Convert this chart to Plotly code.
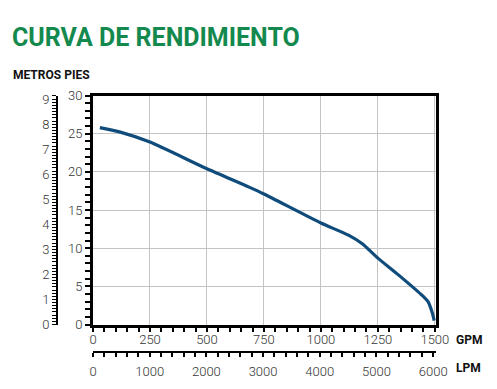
import plotly.graph_objects as go

# ---- data ----
gpm = [30, 120, 250, 500, 685, 750, 1000, 1121, 1180, 1250, 1340, 1441, 1470, 1489, 1497]
feet = [25.8, 25.2, 23.9, 20.4, 18.0, 17.1, 13.3, 11.7, 10.6, 8.7, 6.5, 3.9, 3.0, 1.5, 0.5]
gpm_ticks = [0, 250, 500, 750, 1000, 1250, 1500]
feet_ticks = [0, 5, 10, 15, 20, 25, 30]
metros_ticks = [0, 1, 2, 3, 4, 5, 6, 7, 8, 9]
lpm_ticks = [0, 1000, 2000, 3000, 4000, 5000, 6000]
title_text = "CURVA DE RENDIMIENTO"

W, H = 497, 389
px = lambda x: x / W
py = lambda y: (H - y) / H

NARROW = "Roboto, Liberation Sans Narrow, sans-serif"
tickfont = dict(family=NARROW, size=13, color="#333333", weight=300)

fig = go.Figure()
fig.add_trace(go.Scatter(x=gpm, y=feet, mode="lines",
                         line=dict(color="#0f4c7c", width=3.2, shape="spline", smoothing=0.6),
                         hoverinfo="skip", showlegend=False))
# invisible traces to activate secondary axes
fig.add_trace(go.Scatter(x=[0], y=[0], xaxis="x2", yaxis="y", mode="markers",
                         marker=dict(opacity=0), showlegend=False, hoverinfo="skip"))
fig.add_trace(go.Scatter(x=[0], y=[0], xaxis="x", yaxis="y2", mode="markers",
                         marker=dict(opacity=0), showlegend=False, hoverinfo="skip"))

xdom = [px(93), px(436)]
ydom = [py(324.5), py(95.5)]

fig.update_layout(
    width=W, height=H, margin=dict(l=0, r=0, t=0, b=0, autoexpand=False),
    paper_bgcolor="white", plot_bgcolor="white",
    xaxis=dict(domain=xdom, range=[0, 1505], tickvals=gpm_ticks, ticktext=[str(v) for v in gpm_ticks],
               showgrid=True, gridcolor="#c4c4c4", gridwidth=1,
               showline=True, linecolor="black", linewidth=3, mirror=True,
               ticks="outside", ticklen=4, tickwidth=1.5, tickcolor="black",
               minor=dict(dtick=50, tick0=0, ticks="outside", ticklen=4, tickwidth=1.5, tickcolor="black", showgrid=False),
               ticklabelstandoff=-3,
               tickfont=tickfont, zeroline=False, anchor="y", fixedrange=True, automargin=False),
    yaxis=dict(domain=ydom, range=[0, 30], tickvals=feet_ticks,
               showgrid=True, gridcolor="#c4c4c4", gridwidth=1,
               showline=True, linecolor="black", linewidth=3, mirror=True,
               ticks="outside", ticklen=5, tickwidth=1.5, tickcolor="black",
               minor=dict(dtick=1, tick0=0, ticks="outside", ticklen=5, tickwidth=1.5, tickcolor="black", showgrid=False),
               tickfont=tickfont, zeroline=False, anchor="x", fixedrange=True, automargin=False),
    xaxis2=dict(overlaying="x", domain=xdom, anchor="free", position=py(352), side="bottom",
                range=[0, 6050], tickvals=lpm_ticks, showgrid=False,
                showline=True, linecolor="black", linewidth=2,
                ticks="outside", ticklen=4, tickwidth=1.5, tickcolor="black",
                minor=dict(dtick=200, tick0=0, ticks="outside", ticklen=4, tickwidth=1.5, tickcolor="black"),
                ticklabelstandoff=3,
                tickfont=tickfont, zeroline=False, fixedrange=True, automargin=False),
    yaxis2=dict(overlaying="y", domain=ydom, anchor="free", position=px(57), side="left",
                range=[0, 9.144], tickvals=metros_ticks, showgrid=False,
                showline=True, linecolor="black", linewidth=2,
                ticks="outside", ticklen=4, tickwidth=1.2, tickcolor="black",
                minor=dict(dtick=0.125, tick0=0, ticks="outside", ticklen=4, tickwidth=1.2, tickcolor="black"),
                tickfont=tickfont, zeroline=False, fixedrange=True, automargin=False),
    annotations=[
        dict(text="<b>" + title_text + "</b>", x=px(10), y=py(37), xref="paper", yref="paper",
             xanchor="left", yanchor="middle", showarrow=False,
             font=dict(family=NARROW, size=25, color="#14894e")),
        dict(text="<b>METROS PIES</b>", x=px(11), y=py(75), xref="paper", yref="paper",
             xanchor="left", yanchor="middle", showarrow=False,
             font=dict(family=NARROW, size=12, color="#111111")),
        dict(text="<b>GPM</b>", x=px(454), y=py(340), xref="paper", yref="paper",
             xanchor="left", yanchor="middle", showarrow=False,
             font=dict(family=NARROW, size=12, color="#111111")),
        dict(text="<b>LPM</b>", x=px(454), y=py(368), xref="paper", yref="paper",
             xanchor="left", yanchor="middle", showarrow=False,
             font=dict(family=NARROW, size=12, color="#111111")),
    ],
)

fig.write_html("out.html", config={"displayModeBar": False},
               post_script="document.body.style.margin='0';")
